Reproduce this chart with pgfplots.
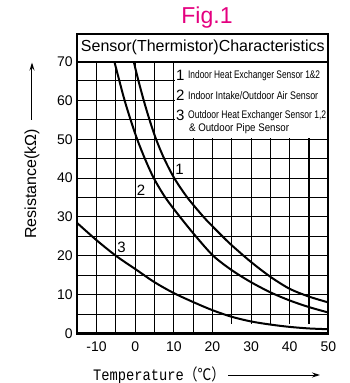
\documentclass[border=0pt]{standalone}
\usepackage{fontspec}
\setmainfont{Liberation Sans}
\newfontfamily\monofont{Liberation Mono}
\newfontfamily\cjk{Noto Sans CJK JP}
\usepackage{graphicx}
\usepackage{pgfplots}
\pgfplotsset{compat=1.18}
\usetikzlibrary{arrows.meta}
\definecolor{figpink}{RGB}{228,0,127}
\newcommand\fs[1]{\fontsize{#1bp}{#1bp}\selectfont}
\newcommand\narrow[2]{\resizebox{#1bp}{\height}{#2}}

\begin{document}
\begin{tikzpicture}
\useasboundingbox (-77.3bp,-49.5bp) rectangle (272.7bp,333.5bp);
\begin{axis}[
    name=ax, at={(0,0)}, anchor=south west,
    scale only axis, width=251bp, height=272bp,
    xmin=-15, xmax=50, ymin=0, ymax=70,
    xtick={-10,0,...,50}, ytick={0,10,...,70},
    minor xtick={-15,-5,...,45}, minor ytick={5,15,...,65},
    grid=both,
    major grid style={black, line width=1.1bp},
    minor grid style={black, line width=1.1bp},
    axis line style={line width=2bp},
    tick style={draw=none},
    ticklabel style={font=\fs{14}},
    /pgf/number format/assume math mode=true,
    xticklabel style={yshift=-5bp},
    yticklabel style={xshift=-1bp},
    clip=false,
  ]
  % gap in the grid under curve 3
  \fill[white] (axis cs:21,0) rectangle (axis cs:49.7,2.55);
  % curve 1
  \addplot[black, line width=2bp, smooth] coordinates {
    (-0.4,70)(0.85,65)(2.2,60)(3.7,55)(5.4,50)(7.5,45)(10.1,40)(13.5,35)
    (17.7,30)(20,27.6)(22.6,25)(25,22.7)(30,18.4)(35,14.6)(40,11.5)(45,9.5)(50,8)};
  % curve 2
  \addplot[black, line width=2bp, smooth] coordinates {
    (-5.4,70)(-4.1,65)(-2.75,60)(-1.2,55)(0.5,50)(2.5,45)(4.8,40)(7.8,35)
    (11.6,30)(15.7,25)(20.2,20)(25,16.3)(30,13.2)(35,10.6)(40,8.5)(45,6.8)(50,5.4)};
  % curve 3
  \addplot[black, line width=2bp, smooth] coordinates {
    (-15,28.4)(-10,24)(-5,20)(0,16.6)(5,13.2)(10,10.4)(15,8.1)(20,6)
    (25,4.3)(30,3.1)(35,2.3)(40,1.7)(45,1.3)(50,1.1)};

  \node[font=\fs{15}] at (axis cs:11.5,42.2) {1};
  \node[font=\fs{15}] at (axis cs:1.5,36.8) {2};
  \node[font=\fs{15}] at (axis cs:-3.55,22.1) {3};

  % legend box
  \fill[white] (axis cs:10.3,50.35) rectangle (axis cs:50,70);
  \node[anchor=west, inner sep=0, font=\fs{15}] at (axis cs:10.56,66.5) {1};
  \node[anchor=west, inner sep=0, font=\fs{15}] at (axis cs:10.56,61.4) {2};
  \node[anchor=west, inner sep=0, font=\fs{15}] at (axis cs:10.56,56.2) {3};
  \node[anchor=west, inner sep=0, font=\fs{11}] at (axis cs:13.66,66.3) {\narrow{132}{Indoor Heat Exchanger Sensor 1\&2}};
  \node[anchor=west, inner sep=0, font=\fs{11}] at (axis cs:13.66,61.2) {\narrow{130}{Indoor Intake/Outdoor Air Sensor}};
  \node[anchor=west, inner sep=0, font=\fs{11}] at (axis cs:13.66,56.0) {\narrow{138}{Outdoor Heat Exchanger Sensor 1,2}};
  \node[anchor=west, inner sep=0, font=\fs{11}] at (axis cs:13.9,52.6) {\narrow{100}{\& Outdoor Pipe Sensor}};
\end{axis}
\draw[line width=2bp] (ax.south west) rectangle ([yshift=27.5bp]ax.north east);
\draw[line width=2bp] (ax.north west) -- (ax.north east);
\node[font=\fs{16}] at ([yshift=13.75bp]ax.north) {Sensor(Thermistor)Characteristics};
\node[font=\fs{23}, text=figpink] at (129.7bp,315.5bp) {Fig.1};
\node[rotate=90, font=\fs{16}] at (-45.3bp,149.5bp) {Resistance(kΩ)};
\draw[line width=1bp, -{Stealth[length=8bp,width=5bp]}] (-45.3bp,213.5bp) -- (-45.3bp,271bp);
\node[anchor=west, inner sep=0, font=\fs{16}] at (15.7bp,-41.5bp) {\narrow{132}{{\monofont Temperature}{\cjk （℃）}}};
\draw[line width=1bp, -{Stealth[length=8bp,width=5bp]}] (150.7bp,-41.5bp) -- (242.7bp,-41.5bp);
\end{tikzpicture}
\end{document}
